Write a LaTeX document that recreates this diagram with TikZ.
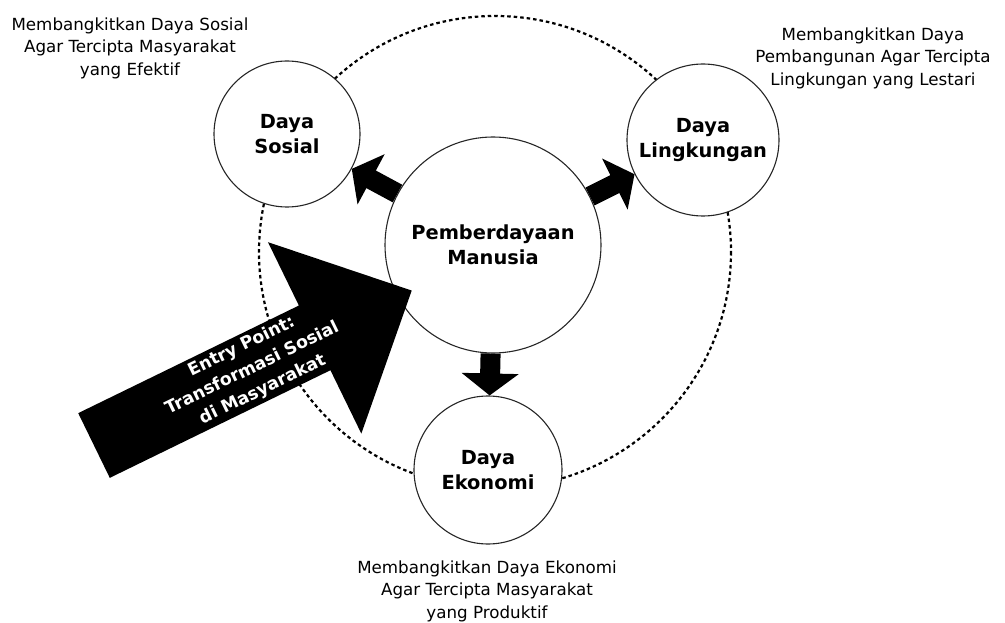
\documentclass[tikz,border=0pt]{standalone}
\usepackage{fontspec}
\setmainfont{DejaVu Sans}
\usetikzlibrary{arrows.meta}

\begin{document}
\begin{tikzpicture}[
  x=1pt,
  y=-1pt,
  power/.style={circle,draw=black!85,line width=1.1pt,fill=white,inner sep=0pt,align=center,font=\bfseries\fontsize{19.4}{25}\selectfont},
  note/.style={align=center,font=\fontsize{16.7}{22.5}\selectfont},
  push/.style={draw=black,line width=20pt,-{Triangle[length=22pt,width=56pt]}},
  ring/.style={draw=black,line width=2.2pt,dash pattern=on 3.5pt off 3pt},
  entry/.style={align=center,text=white,font=\bfseries\fontsize{17.3}{24}\selectfont}
]
  \useasboundingbox (0,0) rectangle (1005,623);
  \draw[ring] (495,252) circle[radius=236];

  \node[power,minimum size=216pt] (pm) at (493,245) {Pemberdayaan\\Manusia};
  \node[power,minimum size=146pt] (ds) at (287,134) {Daya\\Sosial};
  \node[power,minimum size=152pt] (dl) at (703,140) {Daya\\Lingkungan};
  \node[power,minimum size=148pt] (de) at (488,470) {Daya\\Ekonomi};

  \draw[push] (pm) -- (ds);
  \draw[push] (pm) -- (dl);
  \draw[push] (pm) -- (de);

  \node[note] (ds-note) at (130,48) {Membangkitkan Daya Sosial\\Agar Tercipta Masyarakat\\yang Efektif};
  \node[note] (dl-note) at (873,58) {Membangkitkan Daya\\Pembangunan Agar Tercipta\\Lingkungan yang Lestari};
  \node[note] (de-note) at (487,591) {Membangkitkan Daya Ekonomi\\Agar Tercipta Masyarakat\\yang Produktif};

  \begin{scope}[shift={(94,445.5)},rotate=26]
    \fill[black] (0,-36) -- (245.5,-36) -- (245.5,-106.5) -- (353.5,0)
      -- (245.5,106.5) -- (245.5,36) -- (0,36) -- cycle;
    \node[entry,rotate=26] (ep) at (176,0) {Entry Point:\\Transformasi Sosial\\di Masyarakat};
  \end{scope}
\end{tikzpicture}
\end{document}
